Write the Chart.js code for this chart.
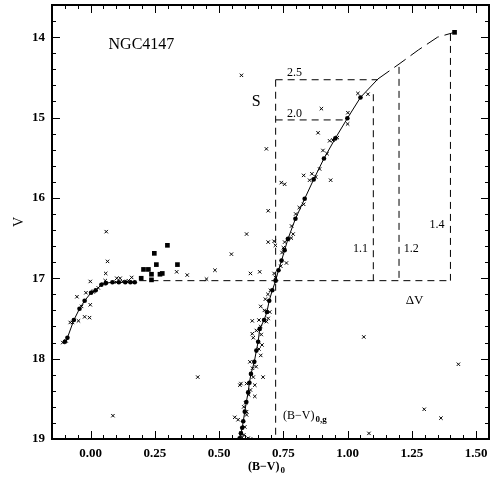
<!DOCTYPE html>
<html><head><meta charset="utf-8">
<script src="https://cdn.jsdelivr.net/npm/chart.js@4.4.0/dist/chart.umd.min.js"></script>
<style>html,body{margin:0;padding:0;background:#fff;}canvas{display:block;}</style>
</head><body>
<canvas id="c" width="494" height="477"></canvas>
<script>
// ---------- data ----------
const xTickValues = [0, 0.25, 0.5, 0.75, 1.0, 1.25, 1.5];
const xTickLabels = ['0.00', '0.25', '0.50', '0.75', '1.00', '1.25', '1.50'];
const yTickValues = [14, 15, 16, 17, 18, 19];
const yTickLabels = ['14', '15', '16', '17', '18', '19'];

// individual stars (crosses)
const crossX = [0.587,0.061,0.607,0.066,0.059,0.057,-0.001,0.102,0.115,0.160,0.147,0.335,0.376,0.484,0.451,0.548,
  -0.053,-0.018,0.012,-0.001,-0.023,-0.004,-0.047,-0.079,-0.108,0.417,0.087,1.083,1.063,1.298,1.363,1.431,
  1.040,1.079,0.898,1.001,1.000,0.885,0.930,0.943,0.904,0.684,0.742,0.755,0.829,0.861,0.852,0.891,0.934,
  0.829,0.798,0.691,0.788,0.691,0.714,0.719,0.755,0.766,0.781,0.762,0.740,0.658,0.622,0.714,0.719,
  0.680,0.662,0.697,0.691,0.629,0.655,0.684,0.629,0.645,0.633,0.667,0.662,0.620,0.671,0.633,0.639,0.639,
  0.585,0.607,0.622,0.581,0.574,0.561,0.607,0.607,0.613,0.622,0.590,
  0.750,0.745,0.700,0.690,0.676,0.662,0.664,0.655,0.644,0.630,0.615,0.603,0.596,0.600,0.586,0.596,
  -0.095,-0.070,-0.035,0.010,0.030,0.050,0.100,0.125,0.165,0.960,0.920,0.876,0.812,0.782];
const crossV = [14.475,16.42,16.45,16.79,16.94,17.03,17.04,17.00,17.00,16.99,17.03,16.92,16.96,16.90,17.01,16.70,
  17.23,17.18,17.16,17.33,17.48,17.49,17.53,17.55,17.80,18.23,18.71,18.93,17.73,18.63,18.74,18.07,
  14.70,14.71,14.89,14.94,15.08,15.19,15.29,15.28,15.41,15.39,15.81,15.83,15.72,15.70,15.78,15.64,15.78,
  16.08,16.20,16.16,16.45,16.55,16.54,16.59,16.55,16.52,16.50,16.81,16.85,16.92,16.94,16.94,16.99,
  17.26,17.35,17.42,17.50,17.53,17.52,17.54,17.69,17.65,17.74,17.83,17.96,18.04,18.23,18.23,18.33,18.47,
  18.31,18.31,18.39,18.33,18.76,18.73,18.70,18.66,18.99,19.00,18.98,
  16.62,16.68,17.15,17.20,17.40,17.60,17.70,17.88,18.10,18.12,18.45,18.55,18.60,18.85,18.93,18.95,
  17.78,17.55,17.35,17.17,17.12,17.07,17.05,17.04,17.05,15.25,15.45,15.74,16.12,16.35];

// RGB fiducial points (filled circles + solid line)
const rgbX = [0.580,0.585,0.590,0.594,0.600,0.606,0.613,0.618,0.624,0.637,0.645,0.652,0.658,0.675,0.686,0.695,0.707,0.720,
  0.731,0.743,0.755,0.768,0.797,0.833,0.868,0.908,0.952,0.999,1.050];
const rgbV = [18.99,18.93,18.86,18.78,18.66,18.54,18.42,18.30,18.19,18.04,17.90,17.79,17.63,17.52,17.42,17.28,17.15,17.03,
  16.90,16.78,16.65,16.51,16.26,16.01,15.77,15.51,15.26,15.01,14.75];
const rgbEnd = [1.118, 14.52];

// HB fiducial points
const hbX = [-0.100,-0.090,-0.065,-0.043,-0.023,0.002,0.020,0.042,0.060,0.085,0.110,0.135,0.155,0.172];
const hbV = [17.79,17.74,17.52,17.38,17.28,17.18,17.15,17.08,17.06,17.05,17.05,17.05,17.05,17.05];

// red HB stars (filled squares)
const sqX = [0.299,0.248,0.256,0.338,0.206,0.225,0.237,0.270,0.279,0.197,0.237];
const sqV = [16.59,16.69,16.83,16.83,16.89,16.89,16.95,16.95,16.94,17.00,17.02];

// extrapolated RGB tip (dashed) ending at the brightest star
const extX = [1.118,1.200,1.275,1.350,1.416];
const extV = [14.52,14.335,14.16,14.00,13.94];
const tipX = [1.416];
const tipV = [13.94];

// reference levels
const vHB = 17.03;
const bvG = 0.72;
const colorLevels = [1.1, 1.2, 1.4];
const colorTops = [14.71, 14.37, 13.96];
const sLevels = [2.5, 2.0];
const sEnds = [1.118, 0.999];

// ---------- helpers ----------
const FONT = '"Liberation Serif", "DejaVu Serif", serif';
const pts = (xs, ys) => xs.map((v, i) => ({x: v, y: ys[i]}));
const dashed = (data) => ({data, showLine: true, borderColor: '#000', borderWidth: 1, borderDash: [7, 5], pointRadius: 0, fill: false});

const datasets = [];
datasets.push(dashed([{x: bvG, y: vHB - sLevels[0]}, {x: bvG, y: 19.0}]));
sLevels.forEach((s, i) => datasets.push(dashed([{x: bvG, y: vHB - s}, {x: sEnds[i], y: vHB - s}])));
datasets.push(dashed([{x: 0.19, y: vHB}, {x: colorLevels[2], y: vHB}]));
colorLevels.forEach((c, i) => datasets.push(dashed([{x: c, y: colorTops[i]}, {x: c, y: vHB}])));
datasets.push({data: pts(extX, extV), showLine: true, borderColor: '#000', borderWidth: 1, borderDash: [14, 6], pointRadius: 0});
datasets.push({data: pts(crossX, crossV), pointStyle: 'crossRot', pointRadius: 2.4, borderColor: '#000', borderWidth: 1, backgroundColor: '#000'});
const rgbData = pts(rgbX, rgbV).concat([{x: rgbEnd[0], y: rgbEnd[1]}]);
datasets.push({data: rgbData, showLine: true, borderColor: '#000', borderWidth: 1, backgroundColor: '#000',
  pointStyle: 'circle', pointRadius: (c) => c.dataIndex === rgbData.length - 1 ? 0 : 2.3, pointBorderWidth: 0});
datasets.push({data: pts(hbX, hbV), showLine: true, borderColor: '#000', borderWidth: 1, backgroundColor: '#000',
  pointStyle: 'circle', pointRadius: 2.3, pointBorderWidth: 0});
datasets.push({data: pts(sqX, sqV).concat(pts(tipX, tipV)), pointStyle: 'rect', pointRadius: 3.3, backgroundColor: '#000', borderColor: '#000', borderWidth: 0});

const framePlugin = {
  id: 'frame',
  afterDatasetsDraw(chart) {
    const {ctx, chartArea: a, scales: {x, y}} = chart;
    ctx.save();
    ctx.strokeStyle = '#000';
    ctx.lineWidth = 1;
    ctx.beginPath();
    for (let i = -3; i <= 31; i++) {
      const px = Math.round(x.getPixelForValue(i * 0.05)) + 0.5;
      const L = (i % 5 === 0) ? 8 : 4;
      ctx.moveTo(px, a.bottom); ctx.lineTo(px, a.bottom - L);
      ctx.moveTo(px, a.top); ctx.lineTo(px, a.top + L);
    }
    for (let i = 68; i <= 95; i++) {
      const py = Math.round(y.getPixelForValue(i * 0.2)) + 0.5;
      const L = (i % 5 === 0) ? 8 : 4;
      ctx.moveTo(a.left, py); ctx.lineTo(a.left + L, py);
      ctx.moveTo(a.right, py); ctx.lineTo(a.right - L, py);
    }
    ctx.stroke();
    ctx.lineWidth = 2;
    ctx.strokeRect(a.left, a.top, a.right - a.left, a.bottom - a.top);

    ctx.fillStyle = '#000';
    ctx.textBaseline = 'middle';
    const txt = (s, xv, yv, size, align) => {
      ctx.font = size + 'px ' + FONT;
      ctx.textAlign = align || 'left';
      ctx.fillText(s, x.getPixelForValue(xv), y.getPixelForValue(yv));
    };
    txt('NGC4147', 0.070, 14.10, 16);
    txt('S', 0.644, 14.81, 16, 'center');
    txt('2.5', 0.764, 14.45, 12);
    txt('2.0', 0.764, 14.95, 12);
    txt('1.1', 1.021, 16.63, 12);
    txt('1.2', 1.218, 16.63, 12);
    txt('1.4', 1.319, 16.33, 12);
    txt('\u0394V', 1.226, 17.28, 13);
    // (B-V)0,g
    ctx.font = '12px ' + FONT; ctx.textAlign = 'left';
    const gx = x.getPixelForValue(0.749), gy = y.getPixelForValue(18.71);
    ctx.fillText('(B\u2212V)', gx, gy);
    const gw = ctx.measureText('(B\u2212V)').width;
    ctx.font = 'bold 9px ' + FONT;
    ctx.fillText('0,g', gx + gw + 1, gy + 4);
    // x-axis title (B-V)0
    ctx.font = 'bold 12px ' + FONT;
    const m = ctx.measureText('(B\u2212V)').width;
    ctx.font = 'bold 9px ' + FONT;
    const s = ctx.measureText('0').width;
    const tx = (a.left + a.right) / 2 - 4 - (m + s + 1) / 2, ty = a.bottom + 28;
    ctx.font = 'bold 12px ' + FONT;
    ctx.fillText('(B\u2212V)', tx, ty);
    ctx.font = 'bold 9px ' + FONT;
    ctx.fillText('0', tx + m + 1, ty + 4);
    ctx.restore();
  }
};

const noPad = (s) => { s.paddingTop = 0; s.paddingBottom = 0; s.paddingLeft = 0; s.paddingRight = 0; };

new Chart(document.getElementById('c').getContext('2d'), {
  type: 'scatter',
  data: {datasets},
  options: {
    responsive: false, animation: false, devicePixelRatio: 1,
    layout: {padding: {top: 4, right: 4, left: 0, bottom: 0}},
    plugins: {legend: {display: false}, tooltip: {enabled: false}},
    scales: {
      x: {
        type: 'linear', min: -0.15, max: 1.55,
        grid: {display: false, drawTicks: false}, border: {display: false},
        afterBuildTicks: (s) => { s.ticks = xTickValues.map(v => ({value: v})); },
        ticks: {autoSkip: false, maxRotation: 0, padding: 7, color: '#000', font: {family: FONT, size: 13, weight: 'bold'},
          callback: (v, i) => xTickLabels[i]},
        afterFit: (s) => { s.height = 38; noPad(s); }
      },
      y: {
        type: 'linear', reverse: true, min: 13.6, max: 19,
        grid: {display: false, drawTicks: false}, border: {display: false},
        afterBuildTicks: (s) => { s.ticks = yTickValues.map(v => ({value: v})); },
        ticks: {autoSkip: false, padding: 7, color: '#000', font: {family: FONT, size: 13, weight: 'bold'},
          callback: (v, i) => yTickLabels[i]},
        title: {display: true, text: 'V', color: '#000', font: {family: FONT, size: 14}, padding: {top: 11, bottom: 0}},
        afterFit: (s) => { s.width = 52; noPad(s); }
      }
    }
  },
  plugins: [framePlugin]
});
</script>
</body></html>
